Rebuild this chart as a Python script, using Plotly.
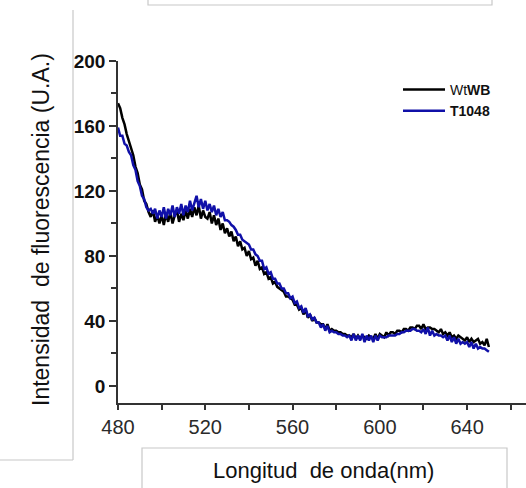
import plotly.graph_objects as go

wavelength = list(range(480, 651))

wtwb = [
    174, 171, 165, 161, 155, 151, 146, 142, 135, 131,
    124, 121, 114, 112, 107, 104, 108, 101, 105, 100,
    105, 99, 106, 101, 107, 100, 105, 108, 101, 106,
    102, 108, 103, 109, 104, 110, 105, 111, 103, 108,
    104, 103, 107, 100, 105, 99, 103, 96, 100, 94,
    97, 92, 95, 89, 92, 86, 89, 84, 85, 80,
    83, 78, 79, 74, 77, 72, 73, 69, 70, 66,
    67, 63, 64, 61, 60, 59, 58, 55, 55, 54,
    53, 50, 50, 47, 48, 44, 47, 42, 44, 40,
    42, 39, 39, 38, 38, 35, 38, 34, 35, 34,
    34, 33, 33, 32, 32, 31, 31, 30, 32, 29,
    31, 29, 31, 30, 29, 31, 30, 29, 32, 29,
    32, 31, 30, 33, 31, 33, 33, 32, 34, 34,
    33, 35, 35, 34, 36, 36, 35, 37, 37, 35,
    38, 35, 36, 36, 35, 35, 34, 33, 35, 32,
    33, 31, 33, 30, 31, 29, 31, 30, 29, 28,
    30, 27, 29, 27, 28, 29, 26, 27, 25, 29,
    24,
]

t1048 = [
    159, 154, 154, 149, 148, 144, 142, 136, 133, 126,
    123, 117, 115, 110, 108, 109, 106, 109, 103, 108,
    104, 110, 103, 109, 105, 111, 104, 110, 106, 112,
    105, 111, 107, 114, 108, 113, 117, 110, 115, 109,
    114, 108, 112, 107, 111, 105, 109, 104, 107, 102,
    102, 101, 99, 98, 96, 93, 93, 90, 89, 88,
    87, 84, 84, 81, 80, 77, 77, 72, 73, 69,
    70, 66, 66, 63, 63, 60, 60, 57, 57, 54,
    55, 51, 52, 48, 49, 45, 48, 43, 44, 41,
    42, 39, 39, 36, 38, 34, 37, 33, 34, 33,
    33, 32, 32, 31, 31, 30, 31, 28, 32, 28,
    31, 28, 32, 27, 31, 28, 31, 27, 31, 28,
    31, 30, 30, 30, 31, 31, 31, 31, 32, 32,
    33, 33, 34, 34, 34, 35, 35, 34, 34, 33,
    35, 32, 36, 31, 34, 31, 32, 31, 31, 30,
    31, 28, 31, 27, 30, 26, 29, 26, 27, 26,
    27, 24, 27, 23, 26, 23, 24, 23, 23, 22,
    21,
]

series_names = ["Wt<b>WB</b>", "<b>T1048</b>"]
x_ticks = [480, 520, 560, 600, 640]
y_ticks = [0, 40, 80, 120, 160, 200]

FONT = "Arial, Liberation Sans, sans-serif"
W, H = 526, 488
L, R, T, B = 118, 0, 61, 85
PW, PH = W - L - R, H - T - B


def px(x):
    return (x - L) / PW


def py(y):
    return (H - B - y) / PH


fig = go.Figure()
fig.add_trace(go.Scatter(x=wavelength, y=wtwb, mode="lines", name=series_names[0],
                         line=dict(color="#000000", width=2.5)))
fig.add_trace(go.Scatter(x=wavelength, y=t1048, mode="lines", name=series_names[1],
                         line=dict(color="#1010a8", width=2.5)))

axis_common = dict(showgrid=False, zeroline=False, showline=True, linecolor="#333333",
                   ticks="outside", tickwidth=1.5, tickcolor="#333333")

fig.update_xaxes(range=[480, 667], tickvals=x_ticks, ticktext=[str(v) for v in x_ticks],
                 linewidth=2, ticklen=5,
                 minor=dict(dtick=20, tick0=480, ticks="outside", ticklen=5, tickcolor="#333333"),
                 tickfont=dict(family=FONT, size=20, color="#2a2a2a"), **axis_common)
fig.update_yaxes(range=[-10.5, 200], tickvals=y_ticks, ticktext=[f"<b>{v}</b>" for v in y_ticks],
                 linewidth=1.5, ticklen=7,
                 minor=dict(dtick=20, tick0=0, ticks="outside", ticklen=5, tickcolor="#333333"),
                 tickfont=dict(family=FONT, size=19, color="#111111"), **axis_common)

shapes = [
    dict(type="rect", xref="paper", yref="paper", x0=px(148), x1=px(492), y0=py(5), y1=py(-5),
         line=dict(color="#c8c8c8", width=1.2), fillcolor="rgba(0,0,0,0)"),
    dict(type="line", xref="paper", yref="paper", x0=px(73), x1=px(73), y0=py(10), y1=py(460),
         line=dict(color="#c8c8c8", width=1.2)),
    dict(type="line", xref="paper", yref="paper", x0=px(-5), x1=px(73), y0=py(460), y1=py(460),
         line=dict(color="#c8c8c8", width=1.2)),
    dict(type="rect", xref="paper", yref="paper", x0=px(142), x1=px(507), y0=py(495), y1=py(448),
         line=dict(color="#c8c8c8", width=1.2), fillcolor="rgba(0,0,0,0)"),
]

annotations = [
    dict(text="Intensidad  de fluorescencia (U.A.)", xref="paper", yref="paper",
         x=px(41), y=py(230), textangle=-90, showarrow=False,
         font=dict(family=FONT, size=23, color="#111111"), xanchor="center", yanchor="middle"),
    dict(text="Longitud  de onda(nm)", xref="paper", yref="paper",
         x=px(323), y=py(470), showarrow=False,
         font=dict(family=FONT, size=22, color="#111111"), xanchor="center", yanchor="middle"),
]

fig.update_layout(
    width=W, height=H,
    margin=dict(l=L, r=R, t=T, b=B),
    paper_bgcolor="white", plot_bgcolor="white",
    showlegend=True,
    legend=dict(x=px(398), y=py(74), xanchor="left", yanchor="top", itemwidth=42,
                bgcolor="rgba(0,0,0,0)", tracegroupgap=0,
                font=dict(family=FONT, size=14, color="#111111")),
    shapes=shapes, annotations=annotations,
)

fig.write_html("out.html", config={"displayModeBar": False},
               post_script="document.body.style.margin='0';")
